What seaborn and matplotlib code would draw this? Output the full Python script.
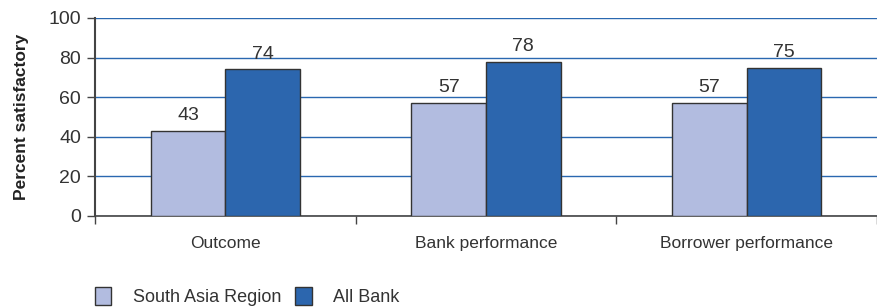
import pandas as pd
import numpy as np
import matplotlib.pyplot as plt
import seaborn as sns

categories = ['Outcome', 'Bank performance', 'Borrower performance']
south_asia = [43, 57, 57]
all_bank = [74, 78, 75]
series_names = ['South Asia Region', 'All Bank']

df = pd.DataFrame({
    'category': categories * 2,
    'value': south_asia + all_bank,
    'series': [series_names[0]] * 3 + [series_names[1]] * 3,
})

sns.set_style('white')
plt.rcParams['font.family'] = ['Liberation Sans', 'DejaVu Sans']
txt = '#333333'

fig = plt.figure(figsize=(8.77, 3.07), dpi=100)
ax = fig.add_axes([95 / 877, 1 - 216 / 307, 1 - 95 / 877, (216 - 18) / 307])

sns.barplot(data=df, x='category', y='value', hue='series',
            palette=['#b2bce0', '#2c66ae'], saturation=1, width=0.573,
            edgecolor='#333333', linewidth=1, ax=ax, zorder=3)

for c in ax.containers:
    ax.bar_label(c, fmt='%d', fontsize=14, color=txt, padding=5)

ax.set_ylim(0, 100)
ax.set_xlim(-0.5, 2.462)
ax.set_yticks(range(0, 101, 20))
ax.yaxis.grid(True, color='#2a68b0', lw=1)
ax.set_axisbelow(True)

sns.despine(ax=ax, top=True, right=True)
ax.spines['left'].set_color('#444444')
ax.spines['left'].set_linewidth(1.5)
ax.spines['bottom'].set_color('#444444')
ax.spines['bottom'].set_linewidth(1.2)

ax.tick_params(axis='y', which='major', left=True, length=6, width=1,
               color='#444444', labelsize=14, labelcolor=txt, pad=4)
ax.tick_params(axis='x', which='major', bottom=False, labelsize=12.5,
               labelcolor=txt, pad=11)
ax.set_xticks([-0.5, 0.5, 1.5, 2.5], minor=True)
ax.tick_params(axis='x', which='minor', bottom=True, length=6, width=1,
               color='#444444', direction='out')

ax.set_xlabel('')
ax.set_ylabel('Percent satisfactory', fontsize=12.5, fontweight='bold',
              color='#222222', labelpad=14)

handles, labels = ax.get_legend_handles_labels()
ax.get_legend().remove()
fig.legend(handles, labels, loc='lower left', bbox_to_anchor=(0.0895, -0.05),
           ncol=2, frameon=False, fontsize=13, labelcolor=txt,
           handlelength=0.9, handleheight=1.2, columnspacing=0.8,
           handletextpad=1.2)

fig.savefig('out.png', dpi=100)
